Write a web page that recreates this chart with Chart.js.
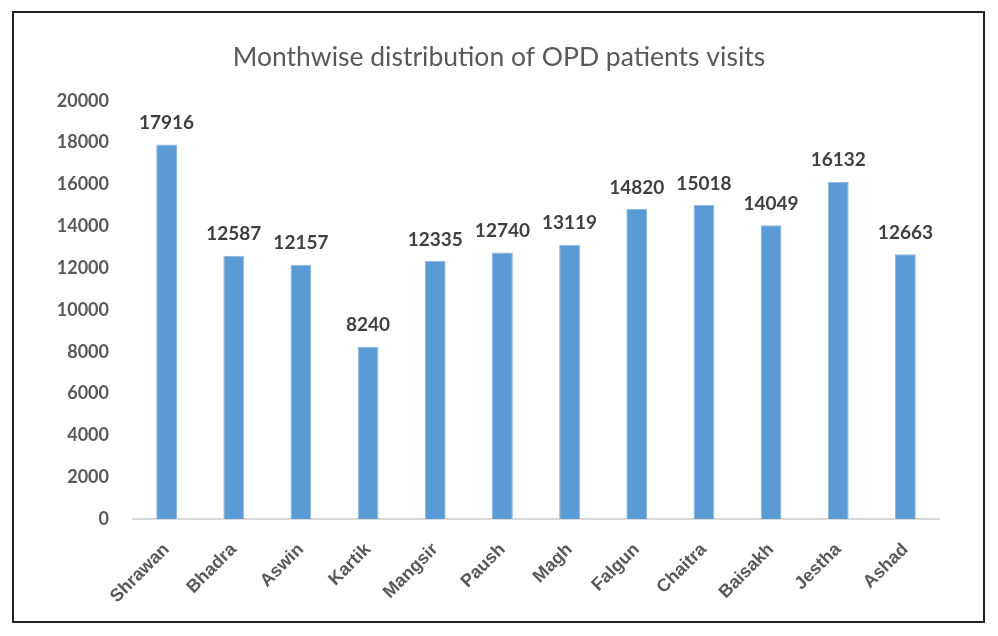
<!DOCTYPE html>
<html>
<head>
<meta charset="utf-8">
<script src="https://cdn.jsdelivr.net/npm/chart.js@4"></script>
<style>
  html, body { margin: 0; padding: 0; background: #fff; }
  #wrap { position: relative; width: 998px; height: 636px; }
  #frame { position: absolute; left: 12px; top: 11px; width: 973px; height: 612px;
           border: 2px solid #222; box-sizing: border-box; pointer-events: none; }
  canvas { position: absolute; left: 0; top: 0; }
</style>
</head>
<body>
<div id="wrap">
  <canvas id="opdChart" width="998" height="636"></canvas>
  <div id="frame"></div>
</div>
<script>
const months = ['Shrawan', 'Bhadra', 'Aswin', 'Kartik', 'Mangsir', 'Paush', 'Magh',
  'Falgun', 'Chaitra', 'Baisakh', 'Jestha', 'Ashad'];
const visits = [17916, 12587, 12157, 8240, 12335, 12740, 13119, 14820, 15018, 14049, 16132, 12663];
const yTicks = [0, 2000, 4000, 6000, 8000, 10000, 12000, 14000, 16000, 18000, 20000];

// labels on top of each bar
const barLabels = {
  id: 'barLabels',
  afterDatasetsDraw(chart) {
    const c = chart.ctx;
    const meta = chart.getDatasetMeta(0);
    c.save();
    c.font = 'bold 19px Lato';
    c.fillStyle = '#404040';
    c.textAlign = 'center';
    c.textBaseline = 'bottom';
    meta.data.forEach((bar, i) => {
      c.fillText(visits[i], bar.x, bar.y - 12);
    });
    c.restore();
  }
};

const ctx = document.getElementById('opdChart').getContext('2d');
const chart = new Chart(ctx, {
  type: 'bar',
  data: {
    labels: months,
    datasets: [{
      label: 'OPD visits',
      data: visits,
      backgroundColor: '#5B9BD5',
      borderColor: '#8DB8E3',
      borderWidth: 1,
      barPercentage: 0.31,
      categoryPercentage: 1
    }]
  },
  options: {
    responsive: false,
    animation: false,
    layout: { padding: 0 },
    plugins: {
      legend: { display: false },
      tooltip: { enabled: false },
      title: {
        display: true,
        text: 'Monthwise distribution of OPD patients visits',
        color: '#595959',
        font: { family: 'Lato', size: 26.5, weight: 'normal' },
        padding: { top: 42, bottom: 27 }
      }
    },
    scales: {
      y: {
        min: 0,
        max: 20000,
        afterBuildTicks(scale) { scale.ticks = yTicks.map(v => ({ value: v })); },
        afterFit(scale) { scale.width = 133; },
        grid: { display: false },
        border: { display: false },
        ticks: {
          padding: 16,
          color: '#595959',
          font: { family: 'Lato', size: 18, weight: 'bold' },
          callback: v => String(v)
        }
      },
      // empty right-hand axis, only keeps space right of the plot
      yRight: {
        position: 'right',
        afterFit(scale) { scale.width = 59; },
        grid: { display: false },
        border: { display: false },
        ticks: { display: false }
      },
      x: {
        afterFit(scale) { scale.height = 117; },
        grid: { display: false },
        border: { color: '#D9D9D9', width: 2 },
        ticks: {
          minRotation: 45,
          maxRotation: 45,
          padding: 12,
          color: '#595959',
          font: { family: 'Liberation Sans', size: 18, weight: 'bold' }
        }
      }
    }
  },
  plugins: [barLabels]
});
</script>
</body>
</html>
